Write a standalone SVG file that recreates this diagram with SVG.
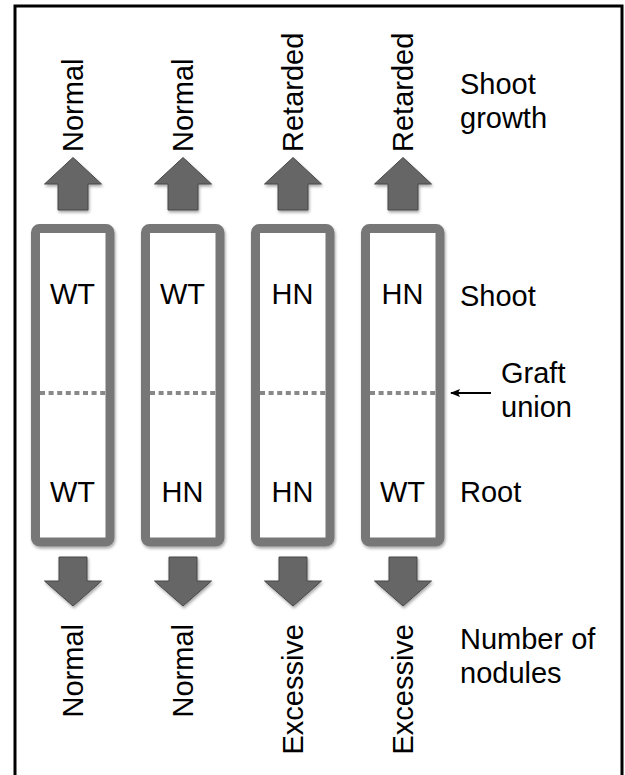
<svg xmlns="http://www.w3.org/2000/svg" width="625" height="775" viewBox="0 0 625 775">
<defs>
<style>
text{font-family:"Liberation Sans",Arial,sans-serif;font-size:29px;fill:#000}
.col{fill:#fff;stroke:#777;stroke-width:9}
.arr{fill:#666;stroke:#484848;stroke-width:1}
.dash{stroke:#888;stroke-width:4;stroke-dasharray:5 3.6}
</style>
<filter id="sh" x="-20%" y="-20%" width="140%" height="140%">
<feDropShadow dx="1" dy="2" stdDeviation="1.5" flood-color="#000" flood-opacity="0.35"/>
</filter>
<marker id="ah" markerWidth="10" markerHeight="8" refX="1" refY="4" orient="auto" markerUnits="userSpaceOnUse">
<path d="M10,0 L0,4 L10,8 L8,4 Z" fill="#000"/>
</marker>
<path id="up" d="M0,-26.5 L28.5,0 L15,0 L15,26 L-15,26 L-15,0 L-28.5,0 Z"/>
<path id="down" d="M-14,0 L14,0 L14,24 L28.5,24 L0,49 L-28.5,24 L-14,24 Z"/>
</defs>
<rect x="15" y="6" width="607" height="775" fill="#fff" stroke="#000" stroke-width="3"/>

<g id="col1">
<use href="#up" class="arr" x="73" y="184" filter="url(#sh)"/>
<rect class="col" x="35.5" y="228.5" width="74.5" height="313.5" rx="4" filter="url(#sh)"/>
<line class="dash" x1="40" y1="393" x2="106" y2="393"/>
<text x="72.5" y="304" text-anchor="middle">WT</text>
<text x="72.5" y="502" text-anchor="middle">WT</text>
<use href="#down" class="arr" x="73" y="557" filter="url(#sh)"/>
<text transform="translate(83,152) rotate(-90)">Normal</text>
<text transform="translate(83,624) rotate(-90)" text-anchor="end">Normal</text>
</g>

<g id="col2">
<use href="#up" class="arr" x="183" y="184" filter="url(#sh)"/>
<rect class="col" x="145.5" y="228.5" width="74.5" height="313.5" rx="4" filter="url(#sh)"/>
<line class="dash" x1="150" y1="393" x2="216" y2="393"/>
<text x="182.5" y="304" text-anchor="middle">WT</text>
<text x="182.5" y="502" text-anchor="middle">HN</text>
<use href="#down" class="arr" x="183" y="557" filter="url(#sh)"/>
<text transform="translate(193,152) rotate(-90)">Normal</text>
<text transform="translate(193,624) rotate(-90)" text-anchor="end">Normal</text>
</g>

<g id="col3">
<use href="#up" class="arr" x="293" y="184" filter="url(#sh)"/>
<rect class="col" x="255.5" y="228.5" width="74.5" height="313.5" rx="4" filter="url(#sh)"/>
<line class="dash" x1="260" y1="393" x2="326" y2="393"/>
<text x="292.5" y="304" text-anchor="middle">HN</text>
<text x="292.5" y="502" text-anchor="middle">HN</text>
<use href="#down" class="arr" x="293" y="557" filter="url(#sh)"/>
<text transform="translate(303,152) rotate(-90)">Retarded</text>
<text transform="translate(303,624) rotate(-90)" text-anchor="end">Excessive</text>
</g>

<g id="col4">
<use href="#up" class="arr" x="403" y="184" filter="url(#sh)"/>
<rect class="col" x="365.5" y="228.5" width="74.5" height="313.5" rx="4" filter="url(#sh)"/>
<line class="dash" x1="370" y1="393" x2="436" y2="393"/>
<text x="402.5" y="304" text-anchor="middle">HN</text>
<text x="402.5" y="502" text-anchor="middle">WT</text>
<use href="#down" class="arr" x="403" y="557" filter="url(#sh)"/>
<text transform="translate(413,152) rotate(-90)">Retarded</text>
<text transform="translate(413,624) rotate(-90)" text-anchor="end">Excessive</text>
</g>

<g id="labels">
<text x="460" y="94">Shoot</text>
<text x="460" y="128">growth</text>
<text x="460" y="306">Shoot</text>
<text x="501" y="383">Graft</text>
<text x="501" y="417">union</text>
<text x="460" y="502">Root</text>
<text x="460" y="649">Number of</text>
<text x="460" y="683">nodules</text>
</g>

<g id="connectors">
<line x1="451" y1="393" x2="491" y2="393" stroke="#000" stroke-width="2" marker-start="url(#ah)"/>
</g>
</svg>
